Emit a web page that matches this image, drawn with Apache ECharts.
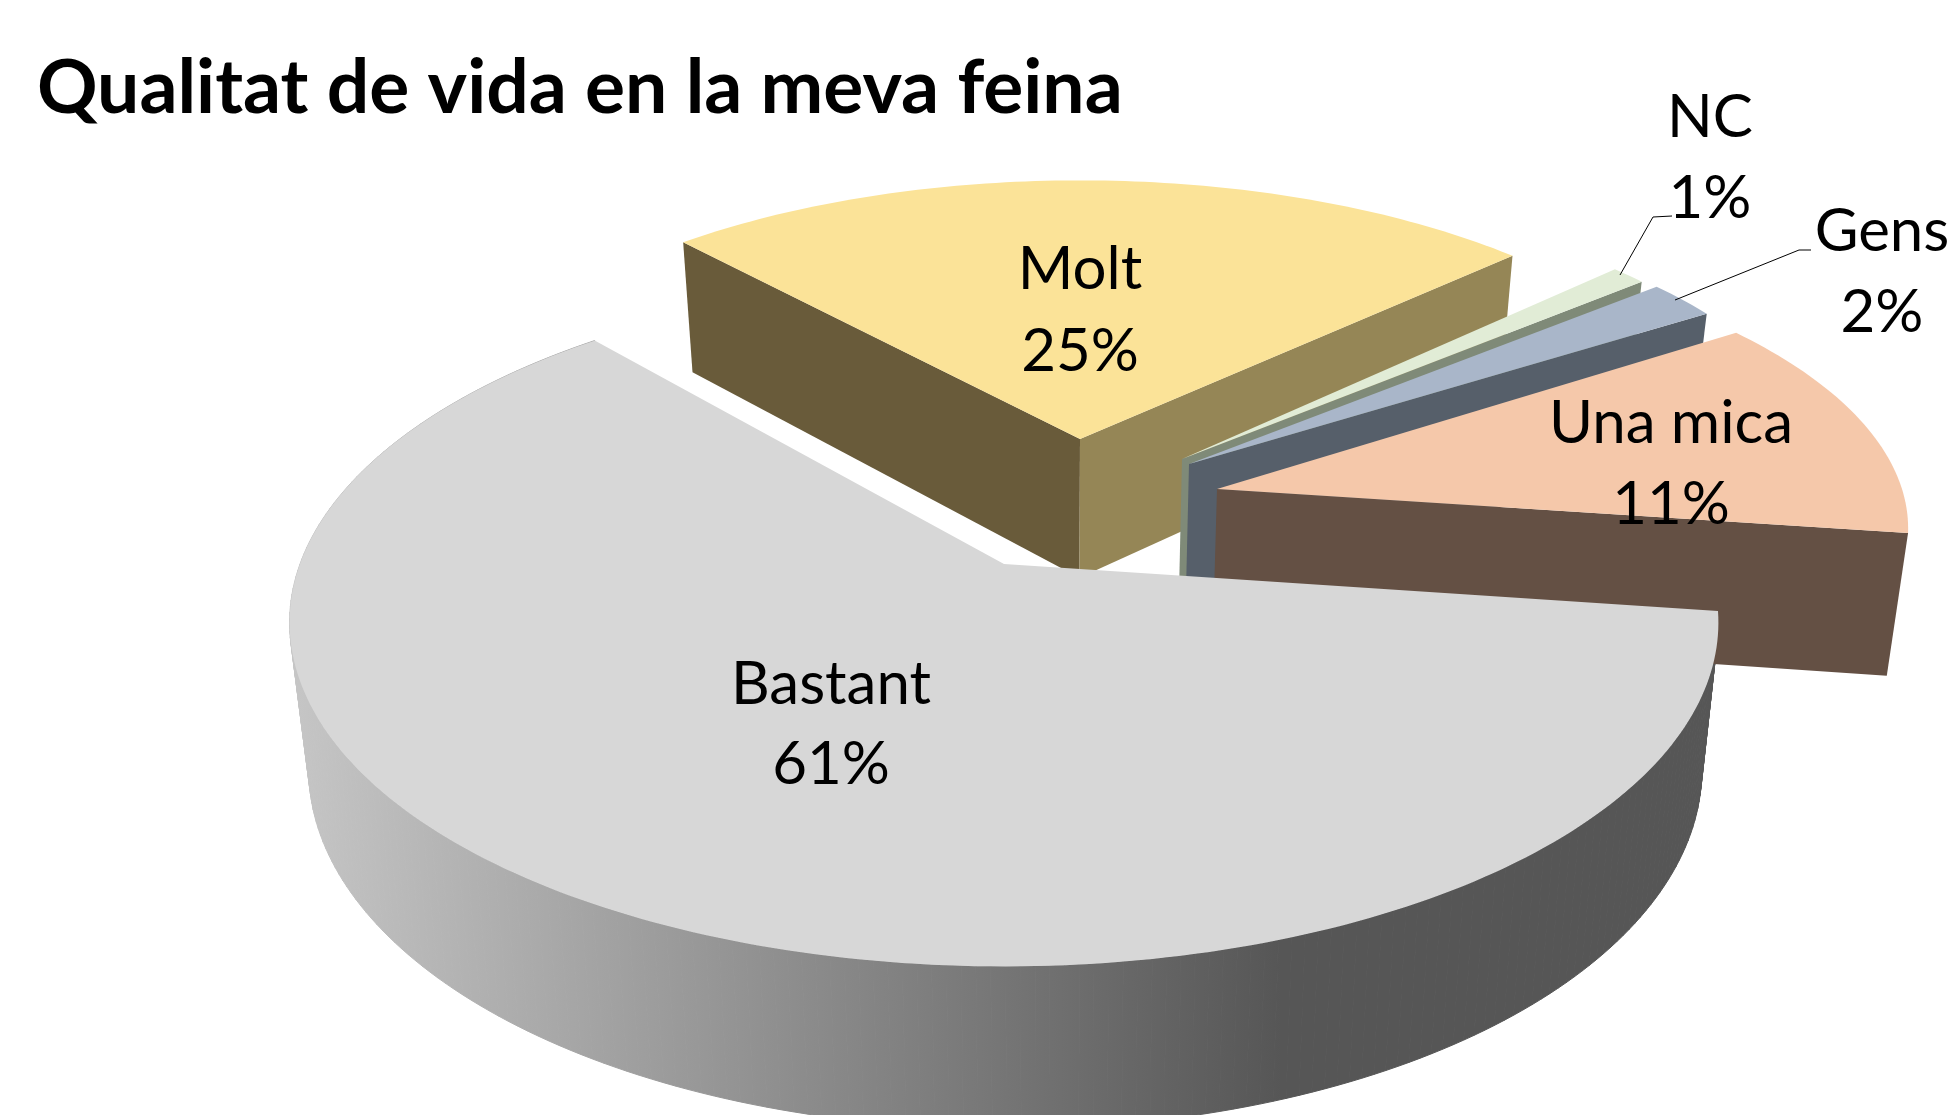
<!DOCTYPE html>
<html>
<head>
<meta charset="utf-8">
<title>Qualitat de vida en la meva feina</title>
<script src="https://cdn.jsdelivr.net/npm/echarts@6/dist/echarts.min.js"></script>
<style>
  html, body { margin: 0; padding: 0; background: #fff; }
  #chart { width: 1954px; height: 1115px; }
</style>
</head>
<body>
<div id="chart"></div>
<script>
const chartTitle = "Qualitat de vida en la meva feina";
const categories = ["Molt", "NC", "Gens", "Una mica", "Bastant"];
const values = [25, 1, 2, 11, 61];

// where each exploded slice sits on the page and how big it looks (per category)
// trim = small corrections in degrees to the two cut edges, the labels are rounded percents
const sliceLayout = [
  { apex: [1080, 439], rx: 645, ry: 293, tilt: -0.133, trim: [0, -0.5], top: "#FBE398", faces: ["start", "end"], sideStart: "#695B3A", sideEnd: "#958656", label: [1080, 270, 352] },
  { apex: [1182, 459], rx: 640, ry: 306, tilt: -0.133, trim: [0, 0], top: "#E1ECD6", faces: ["end"], sideEnd: "#7F8A78", label: [1710, 118, 199], leader: [[1672, 216], [1653, 217], [1620, 275]] },
  { apex: [1189, 464], rx: 651, ry: 306, tilt: -0.133, trim: [0, 0], top: "#A9B6C9", faces: ["end"], sideEnd: "#565F6A", label: [1882, 232, 313], leader: [[1811, 250], [1799, 250], [1675, 300]] },
  { apex: [1217, 489], rx: 685, ry: 291, tilt: -0.133, trim: [-3.6, 0.6], top: "#F5C8AA", faces: ["end"], sideEnd: "#645044", label: [1671, 424, 505] },
  { apex: [1004, 564], rx: 704, ry: 334, tilt: -0.17, trim: [0, 1.5], top: "#D7D7D7", faces: ["arc"], label: [831, 685, 765] }
];

const startAngle = -42.5; // clockwise from 12 o'clock
const total = values.reduce((a, b) => a + b, 0);

// point on the top face of a slice
function topPoint(layout, deg) {
  const a = deg * Math.PI / 180;
  const u = Math.sin(a);
  const v = -Math.cos(a);
  const w = 1 + layout.tilt * v;
  return [layout.apex[0] + layout.rx * u / w, layout.apex[1] + layout.ry * v / w];
}

// same point dropped to the bottom of the pie
function lower(p) {
  return [p[0] + (1057 - p[0]) * 0.025, p[1] + 119 + 0.045 * p[1]];
}

function quad(a, b, fill, z2) {
  return {
    type: "polygon",
    z2: z2,
    shape: { points: [a, b, lower(b), lower(a)] },
    style: { fill: fill }
  };
}

function renderSlice(params, api) {
  const i = params.dataIndex;
  const layout = sliceLayout[i];
  let before = 0;
  for (let k = 0; k < i; k++) before += values[k];
  const from = startAngle + before / total * 360 + layout.trim[0];
  const to = startAngle + (before + api.value(0)) / total * 360 + layout.trim[1];

  const arc = [];
  for (let d = from; d < to; d += 1) arc.push(topPoint(layout, d));
  arc.push(topPoint(layout, to));

  const children = [];
  if (layout.faces.includes("start")) children.push(quad(layout.apex, arc[0], layout.sideStart, 1));
  if (layout.faces.includes("end")) children.push(quad(layout.apex, arc[arc.length - 1], layout.sideEnd, 2));
  if (layout.faces.includes("arc")) {
    const sideFill = new echarts.graphic.LinearGradient(289, 0, 1282, 0, [
      { offset: 0, color: "#C6C6C6" },
      { offset: 1, color: "#565656" }
    ], true);
    // one quad per arc step so the outline also covers the tangent from top rim to bottom rim
    for (let s = 0; s < arc.length - 1; s++) {
      const face = quad(arc[s], arc[s + 1], sideFill, 0);
      face.style.stroke = sideFill;
      face.style.lineWidth = 1;
      children.push(face);
    }
  }
  children.push({
    type: "polygon",
    z2: 3,
    shape: { points: [layout.apex].concat(arc) },
    style: { fill: layout.top }
  });

  const labelLines = [categories[i], api.value(0) + "%"];
  labelLines.forEach((line, n) => {
    children.push({
      type: "text",
      z2: 10,
      style: {
        text: line,
        x: layout.label[0],
        y: layout.label[n + 1],
        align: "center",
        verticalAlign: "middle",
        font: "60px Lato",
        fill: "#000"
      }
    });
  });
  if (layout.leader) {
    children.push({
      type: "polyline",
      z2: 10,
      shape: { points: layout.leader },
      style: { stroke: "#000", lineWidth: 1, fill: null }
    });
  }
  return { type: "group", children: children };
}

const chart = echarts.init(document.getElementById("chart"));
chart.setOption({
  animation: false,
  backgroundColor: "#fff",
  title: {
    text: chartTitle,
    left: 32,
    top: 46,
    textStyle: { fontFamily: "Lato", fontWeight: "bold", fontSize: 75, color: "#000" }
  },
  series: [{
    type: "custom",
    coordinateSystem: "none",
    silent: true,
    renderItem: renderSlice,
    data: categories.map((c, i) => ({ name: c, value: [values[i]] }))
  }]
});
</script>
</body>
</html>
